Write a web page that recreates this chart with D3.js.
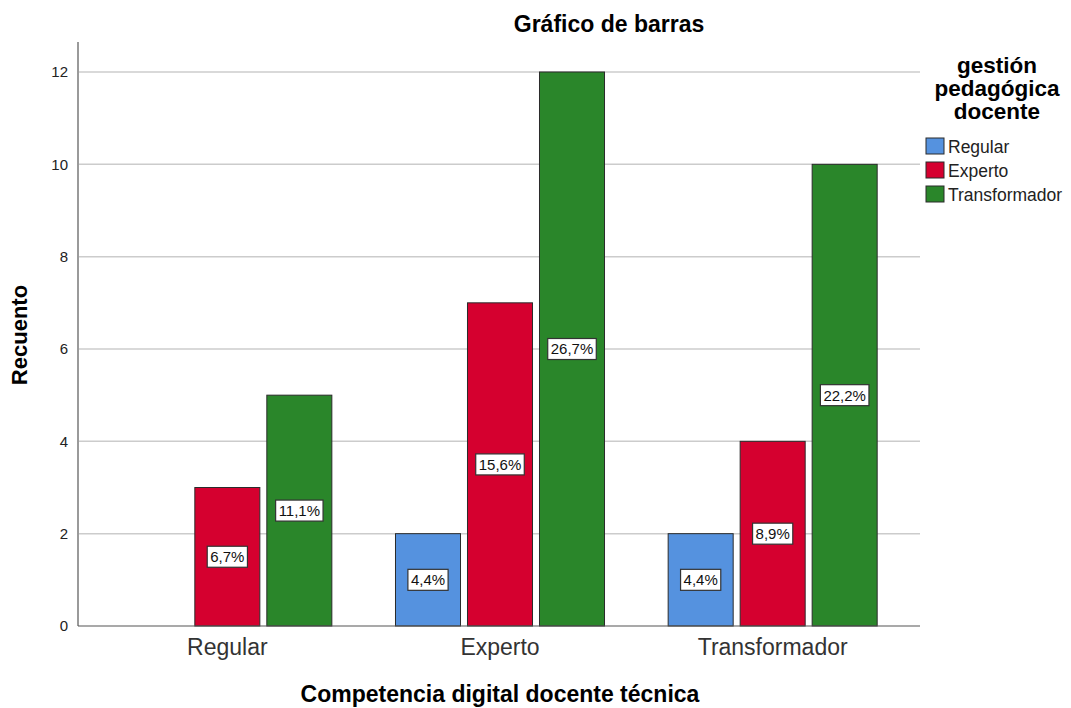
<!DOCTYPE html>
<html>
<head>
<meta charset="utf-8">
<script src="https://cdn.jsdelivr.net/npm/d3@7"></script>
<style>
  body { margin: 0; background: #fff; }
  text { font-family: Arial, "Liberation Sans", sans-serif; }
</style>
</head>
<body>
<div id="chart"></div>
<script>
// categories on the x axis and the legend groups
const categories = ["Regular", "Experto", "Transformador"]
const groups = ["Regular", "Experto", "Transformador"]
// counts per category, one array per legend group
const regularCounts = [0, 2, 2]
const expertoCounts = [3, 7, 4]
const transformadorCounts = [5, 12, 10]
const regularPct = ["", "4,4%", "4,4%"]
const expertoPct = ["6,7%", "15,6%", "8,9%"]
const transformadorPct = ["11,1%", "26,7%", "22,2%"]
const yTicks = [0, 2, 4, 6, 8, 10, 12]
const colors = ["#5592DF", "#D5002F", "#2A862A"]

const width = 1071, height = 708

const svg = d3.select("#chart").append("svg")
  .attr("width", width)
  .attr("height", height)

const plot = { left: 78, right: 920, top: 42, bottom: 626 }

const y = d3.scaleLinear().domain([0, 12]).range([626, 72])
const x = d3.scaleBand().domain(categories).range([91, 909])
const xs = d3.scaleBand().domain(groups).range([0, x.bandwidth()]).paddingInner(0.097).paddingOuter(0.442)

// gridlines
svg.append("g").selectAll("line").data(yTicks.filter(d => d > 0)).enter().append("line")
  .attr("x1", plot.left).attr("x2", plot.right)
  .attr("y1", d => y(d)).attr("y2", d => y(d))
  .attr("stroke", "#cccccc").attr("stroke-width", 1.5)

// y axis
const yAxis = svg.append("g")
  .attr("transform", `translate(${plot.left},0)`)
  .call(d3.axisLeft(y).tickValues(yTicks).tickSize(0).tickPadding(10))
yAxis.select(".domain").remove()
yAxis.selectAll("text").attr("font-size", 15).attr("fill", "#222")
svg.append("line")
  .attr("x1", plot.left).attr("x2", plot.left)
  .attr("y1", plot.top).attr("y2", plot.bottom)
  .attr("stroke", "#9a9a9a").attr("stroke-width", 2)

// bars
const series = [regularCounts, expertoCounts, transformadorCounts]
const pcts = [regularPct, expertoPct, transformadorPct]
const rows = []
groups.forEach((g, gi) => {
  categories.forEach((c, ci) => {
    rows.push({ cat: c, grp: g, gi: gi, value: series[gi][ci], pct: pcts[gi][ci] })
  })
})
const barRows = rows.filter(d => d.value > 0)

svg.append("g").selectAll("rect").data(barRows).enter().append("rect")
  .attr("x", d => x(d.cat) + xs(d.grp))
  .attr("y", d => y(d.value))
  .attr("width", xs.bandwidth())
  .attr("height", d => y(0) - y(d.value))
  .attr("fill", d => colors[d.gi])
  .attr("stroke", "#2b2b2b")
  .attr("stroke-width", 1)

// percentage labels in boxes
const lab = svg.append("g").selectAll("g").data(barRows).enter().append("g")
  .attr("transform", d => `translate(${x(d.cat) + xs(d.grp) + xs.bandwidth() / 2},${y(d.value / 2)})`)
lab.append("rect")
lab.append("text")
  .attr("text-anchor", "middle")
  .attr("dy", "0.36em")
  .attr("font-size", 15)
  .attr("fill", "#111")
  .text(d => d.pct)
  .each(function () {
    const w = this.getComputedTextLength() + 6
    d3.select(this.parentNode).select("rect")
      .attr("x", -w / 2).attr("y", -10.5)
      .attr("width", w).attr("height", 21)
      .attr("fill", "#fff")
      .attr("stroke", "#333")
      .attr("stroke-width", 1.2)
  })

// x axis line
svg.append("line")
  .attr("x1", plot.left).attr("x2", plot.right)
  .attr("y1", plot.bottom).attr("y2", plot.bottom)
  .attr("stroke", "#555").attr("stroke-width", 1.2)

const xAxis = svg.append("g")
  .attr("transform", `translate(0,${plot.bottom})`)
  .call(d3.axisBottom(x).tickSize(0).tickPadding(13))
xAxis.select(".domain").remove()
xAxis.selectAll("text").attr("font-size", 23).attr("fill", "#333")

// titles
svg.append("text")
  .attr("x", 609).attr("y", 32)
  .attr("text-anchor", "middle")
  .attr("font-size", 23).attr("font-weight", "bold")
  .text("Gráfico de barras")

svg.append("text")
  .attr("x", 500).attr("y", 702)
  .attr("text-anchor", "middle")
  .attr("font-size", 23).attr("font-weight", "bold")
  .text("Competencia digital docente técnica")

svg.append("text")
  .attr("transform", "translate(27,335) rotate(-90)")
  .attr("text-anchor", "middle")
  .attr("font-size", 22).attr("font-weight", "bold")
  .text("Recuento")

// legend
const legTitle = ["gestión", "pedagógica", "docente"]
svg.append("g").selectAll("text").data(legTitle).enter().append("text")
  .attr("x", 997)
  .attr("y", (d, i) => 73 + i * 23)
  .attr("text-anchor", "middle")
  .attr("font-size", 22.5).attr("font-weight", "bold")
  .text(d => d)

const leg = svg.append("g").selectAll("g").data(groups).enter().append("g")
  .attr("transform", (d, i) => `translate(926,${138 + i * 24})`)
leg.append("rect")
  .attr("width", 18).attr("height", 16)
  .attr("fill", (d, i) => colors[i])
  .attr("stroke", "#2b2b2b")
leg.append("text")
  .attr("x", 22).attr("y", 15)
  .attr("font-size", 17.5).attr("fill", "#222")
  .text(d => d)
</script>
</body>
</html>
